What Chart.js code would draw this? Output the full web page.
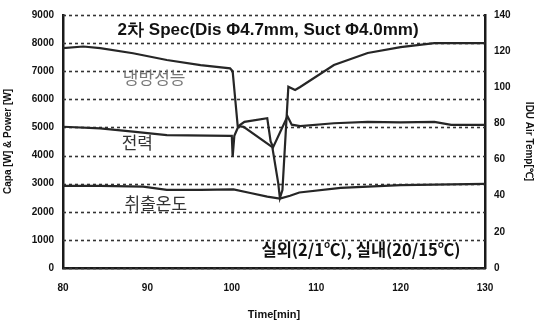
<!DOCTYPE html>
<html>
<head>
<meta charset="utf-8">
<script src="https://cdn.jsdelivr.net/npm/chart.js@4.4.1/dist/chart.umd.min.js"></script>
<style>
  html, body { margin: 0; padding: 0; background: #fff; }
  canvas { display: block; }
</style>
</head>
<body>
<canvas id="c" width="537" height="322"></canvas>
<script>
// Cooling capacity [W]
const capTime = [80, 82.4, 84.4, 88.3, 92.3, 96.3, 99.8, 100.1, 100.7, 101.4, 104.8, 105.5, 105.7, 106.0, 106.7, 107.5, 108.1, 112.1, 116.1, 120, 124, 130];
const capVal  = [7820, 7880, 7820, 7640, 7400, 7220, 7100, 7000, 5050, 5020, 4300, 3020, 2490, 2770, 6450, 6330, 6440, 7220, 7650, 7860, 8000, 8000];

// Input power [W]
const pwrTime = [80, 84.4, 88.3, 92.3, 99.8, 100.0, 100.1, 100.3, 100.8, 101.5, 104.2, 104.6, 104.9, 106.6, 107.1, 108.1, 112.1, 116.1, 120, 124, 126, 130];
const pwrVal  = [5025, 4970, 4850, 4730, 4700, 4700, 3950, 4700, 5050, 5200, 5330, 4500, 4300, 5400, 5100, 5050, 5150, 5200, 5180, 5200, 5090, 5090];

// Indoor unit discharge air temperature [°C]
const tmpTime = [80, 84.4, 89.5, 92.3, 96.3, 100.2, 102.2, 104.2, 105.7, 106.9, 108, 112.9, 120, 130];
const tmpVal  = [45.4, 45.4, 45.0, 43.2, 43.2, 43.5, 41.5, 39.5, 38.4, 40.0, 41.8, 44.3, 45.9, 46.5];

// Axis tick values
const xTicks = [80, 90, 100, 110, 120, 130];
const leftTicks = [0, 1000, 2000, 3000, 4000, 5000, 6000, 7000, 8000, 9000];
const rightTicks = [0, 20, 40, 60, 80, 100, 120, 140];

// Text labels drawn inside the plot
const chartTitle = '2차 Spec(Dis Φ4.7mm, Suct Φ4.0mm)';
const condText = '실외(2/1℃), 실내(20/15℃)';
const capLabel = '냉방성능';
const pwrLabel = '전력';
const tmpLabel = '취출온도';

const pts = (xs, ys) => xs.map((x, i) => ({ x: x, y: ys[i] }));

const lineStyle = {
  borderColor: '#262626',
  borderWidth: 2.2,
  pointRadius: 0,
  tension: 0,
  fill: false
};

// Dotted horizontal grid at every left-axis tick
const dottedGrid = {
  id: 'dottedGrid',
  beforeDatasetsDraw(chart) {
    const ctx = chart.ctx, a = chart.chartArea, ys = chart.scales.y;
    ctx.save();
    ctx.strokeStyle = '#333';
    ctx.lineWidth = 1.6;
    ctx.setLineDash([3, 3]);
    leftTicks.forEach(v => {
      const y = Math.round(ys.getPixelForValue(v)) + 0.5;
      ctx.beginPath();
      ctx.moveTo(a.left, y);
      ctx.lineTo(a.right, y);
      ctx.stroke();
    });
    ctx.restore();
  }
};

const labelsPlugin = {
  id: 'plotLabels',
  afterDatasetsDraw(chart) {
    const ctx = chart.ctx;
    const xs = chart.scales.x, ys = chart.scales.y;
    const put = (text, t, v, font, color) => {
      ctx.save();
      ctx.font = font;
      ctx.fillStyle = color;
      ctx.textAlign = 'center';
      ctx.textBaseline = 'middle';
      ctx.fillText(text, xs.getPixelForValue(t), ys.getPixelForValue(v));
      ctx.restore();
    };
    put(chartTitle, 104.3, 8466, 'bold 17px "Liberation Sans", Arial, sans-serif', '#111');
    put(capLabel, 90.8, 6760, '17px "Noto Sans CJK KR", sans-serif', '#777');
    put(pwrLabel, 88.8, 4480, '17px "Noto Sans CJK KR", sans-serif', '#333');
    put(tmpLabel, 91.0, 2310, '17px "Noto Sans CJK KR", sans-serif', '#333');
    put(condText, 115.3, 640, 'bold 16.5px "Noto Sans CJK KR", sans-serif', '#111');
  }
};

const tickFont = { family: '"Liberation Sans", Arial, sans-serif', size: 10, weight: 'bold' };
const titleFont = { family: '"Liberation Sans", Arial, sans-serif', size: 10, weight: 'bold' };
const plain = v => String(v);

new Chart(document.getElementById('c'), {
  type: 'line',
  data: {
    datasets: [
      Object.assign({ label: capLabel, data: pts(capTime, capVal), yAxisID: 'y' }, lineStyle),
      Object.assign({ label: pwrLabel, data: pts(pwrTime, pwrVal), yAxisID: 'y' }, lineStyle),
      Object.assign({ label: tmpLabel, data: pts(tmpTime, tmpVal), yAxisID: 'y1' }, lineStyle)
    ]
  },
  options: {
    responsive: false,
    animation: false,
    layout: { padding: { top: 15, left: 0, right: 0, bottom: 0 } },
    plugins: { legend: { display: false }, tooltip: { enabled: false } },
    scales: {
      x: {
        type: 'linear',
        min: xTicks[0],
        max: xTicks[xTicks.length - 1],
        afterBuildTicks: s => { s.ticks = xTicks.map(v => ({ value: v })); },
        afterFit: s => { s.height = 54; },
        grid: { display: false, drawTicks: false },
        border: { display: true, color: '#1a1a1a', width: 2.5 },
        ticks: { font: tickFont, color: '#111', padding: 14, maxRotation: 0, callback: plain },
        title: { display: true, text: 'Time[min]', font: { family: titleFont.family, size: 11, weight: 'bold' }, color: '#111', padding: { top: 2, bottom: 0 } }
      },
      y: {
        position: 'left',
        min: 0,
        max: 9000,
        afterBuildTicks: s => { s.ticks = leftTicks.map(v => ({ value: v })); },
        afterFit: s => { s.width = 63; },
        grid: { display: false, drawTicks: false },
        border: { display: true, color: '#1a1a1a', width: 2.5 },
        ticks: { font: tickFont, color: '#111', padding: 9, callback: plain },
        title: { display: true, text: 'Capa [W] & Power [W]', font: titleFont, color: '#111', padding: { top: 2, bottom: 2 } }
      },
      y1: {
        position: 'right',
        min: 0,
        max: 140,
        afterBuildTicks: s => { s.ticks = rightTicks.map(v => ({ value: v })); },
        afterFit: s => { s.width = 52; },
        grid: { drawOnChartArea: false, drawTicks: false },
        border: { display: true, color: '#1a1a1a', width: 2.5 },
        ticks: { font: tickFont, color: '#111', padding: 9, callback: plain },
        title: { display: true, text: 'IDU Air Temp[℃]', font: titleFont, color: '#111', padding: { top: 2, bottom: 2 } }
      }
    }
  },
  plugins: [dottedGrid, labelsPlugin]
});
</script>
</body>
</html>
